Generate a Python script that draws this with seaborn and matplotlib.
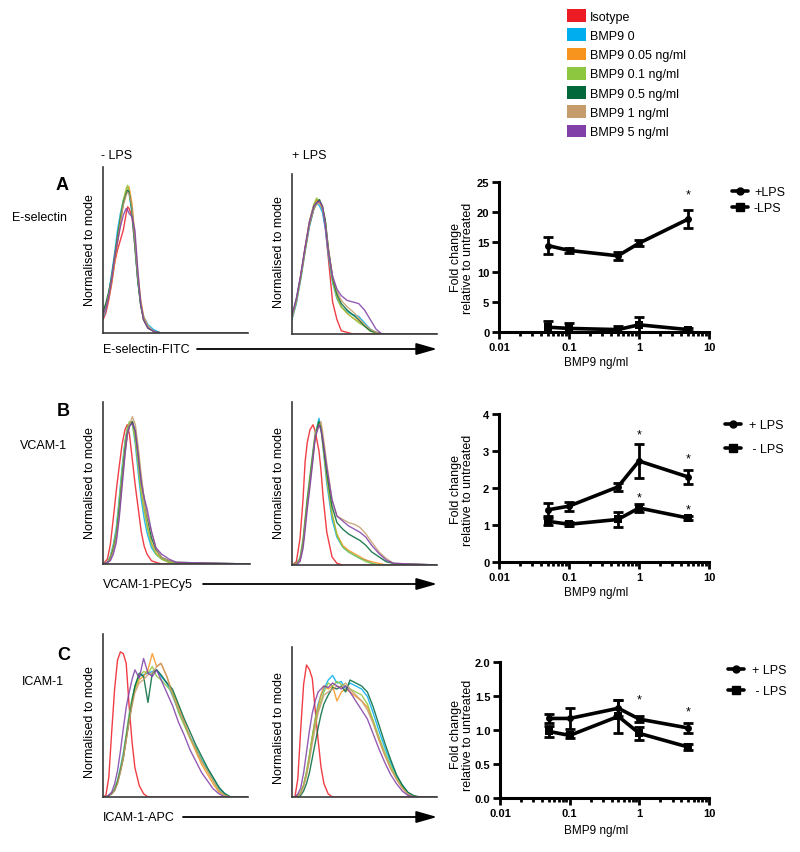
import numpy as np
import pandas as pd
import matplotlib
matplotlib.use('Agg')
import matplotlib.pyplot as plt
from matplotlib.patches import Patch, FancyArrowPatch
from matplotlib.lines import Line2D
from matplotlib.ticker import LogLocator, NullFormatter
import seaborn as sns

sns.set_theme(style='ticks')
plt.rcParams['font.family'] = ['Liberation Sans', 'DejaVu Sans']
plt.rcParams['text.color'] = 'black'
plt.rcParams['axes.labelcolor'] = 'black'
plt.rcParams['xtick.color'] = 'black'
plt.rcParams['ytick.color'] = 'black'

# ---- flow cytometry histograms (channel in % of axis, counts normalised to mode) ----
samples = ['Isotype', 'BMP9 0', 'BMP9 0.05 ng/ml', 'BMP9 0.1 ng/ml',
           'BMP9 0.5 ng/ml', 'BMP9 1 ng/ml', 'BMP9 5 ng/ml']
sample_colors = ['#ED1C24', '#00AEEF', '#F7941D', '#8DC63F',
                 '#00683A', '#C69C6D', '#8040A8']

grid_A_neg = [0, 2, 4, 6, 8, 10, 12, 14, 16, 17, 18, 20, 22, 24, 26, 28, 31, 35, 40, 100]
esel_noLPS = {
    'Isotype':         [8, 12, 20, 30, 42, 50, 56, 62, 72, 76, 75, 70, 52, 32, 17, 8, 3, 1, 0, 0],
    'BMP9 0':          [9, 14, 24, 36, 48, 62, 72, 80, 84, 86, 84, 72, 52, 31, 17, 10, 5, 2, 0, 0],
    'BMP9 0.05 ng/ml': [11, 15, 21, 30, 42, 54, 66, 78, 86, 88, 88, 78, 58, 36, 20, 10, 4, 1, 0, 0],
    'BMP9 0.1 ng/ml':  [12, 17, 24, 33, 46, 58, 70, 80, 87, 89, 85, 74, 54, 32, 17, 8, 3, 1, 0, 0],
    'BMP9 0.5 ng/ml':  [13, 18, 25, 34, 46, 58, 69, 78, 84, 86, 85, 74, 54, 32, 17, 8, 3, 1, 0, 0],
    'BMP9 1 ng/ml':    [10, 15, 23, 33, 45, 56, 67, 77, 83, 85, 84, 76, 56, 34, 19, 9, 4, 1, 0, 0],
    'BMP9 5 ng/ml':    [11, 15, 22, 32, 45, 55, 64, 71, 75, 74, 72, 70, 62, 38, 18, 8, 3, 1, 0, 0],
}

grid_A_pos = [0, 3, 6, 9, 12, 15, 17, 19, 21, 23, 25, 28, 31, 34, 38, 42, 46, 50, 54, 58, 62, 100]
esel_LPS = {
    'Isotype':         [10, 20, 36, 54, 70, 80, 84, 82, 78, 66, 48, 20, 9, 2, 1, 0, 0, 0, 0, 0, 0, 0],
    'BMP9 0':          [9, 19, 34, 51, 67, 78, 82, 80, 76, 66, 50, 32, 22, 17, 14, 12, 11, 7, 3, 1, 0, 0],
    'BMP9 0.05 ng/ml': [11, 21, 35, 52, 69, 80, 84, 83, 80, 70, 54, 34, 23, 17, 13, 10, 8, 5, 2, 1, 0, 0],
    'BMP9 0.1 ng/ml':  [10, 20, 35, 53, 70, 81, 85, 83, 80, 70, 52, 33, 23, 17, 13, 10, 7, 5, 2, 0, 0, 0],
    'BMP9 0.5 ng/ml':  [11, 22, 36, 53, 68, 78, 82, 84, 79, 71, 54, 35, 25, 19, 15, 12, 9, 5, 2, 1, 0, 0],
    'BMP9 1 ng/ml':    [10, 21, 36, 52, 68, 78, 81, 82, 78, 69, 53, 36, 27, 21, 17, 14, 10, 6, 3, 1, 0, 0],
    'BMP9 5 ng/ml':    [12, 22, 37, 54, 70, 80, 82, 83, 80, 68, 52, 36, 28, 24, 21, 20, 19, 15, 9, 3, 0, 0],
}

grid_B_neg = [0, 3, 5, 7, 9, 11, 13, 15, 16.5, 18, 20, 22, 24, 26, 28, 30, 33, 36, 40, 45, 50, 100]
vcam_noLPS = {
    'Isotype':         [0, 3, 12, 28, 45, 60, 74, 83, 86, 80, 64, 48, 34, 20, 11, 6, 2, 1, 0, 0, 0, 0],
    'BMP9 0':          [0, 1, 5, 12, 22, 40, 60, 76, 83, 87, 87, 74, 56, 40, 28, 19, 10, 6, 3, 1, 0, 0],
    'BMP9 0.05 ng/ml': [0, 1, 4, 10, 18, 34, 54, 72, 81, 86, 88, 78, 62, 45, 34, 24, 13, 7, 3, 1, 0, 0],
    'BMP9 0.1 ng/ml':  [0, 1, 4, 11, 20, 38, 58, 75, 84, 88, 86, 76, 60, 44, 33, 23, 12, 6, 3, 1, 0, 0],
    'BMP9 0.5 ng/ml':  [0, 1, 3, 9, 17, 33, 52, 70, 80, 85, 88, 82, 68, 52, 40, 29, 16, 9, 4, 2, 1, 0],
    'BMP9 1 ng/ml':    [0, 1, 3, 8, 16, 30, 50, 68, 79, 86, 91, 86, 72, 55, 40, 30, 20, 10, 4, 2, 1, 0],
    'BMP9 5 ng/ml':    [0, 1, 2, 6, 13, 28, 48, 68, 80, 85, 87, 82, 66, 50, 41, 34, 20, 10, 6, 3, 1, 0],
}

grid_B_pos = [0, 3, 5.5, 7.6, 9, 10.5, 12.4, 14.5, 16, 18.6, 20, 21.4, 24, 27.6, 31, 35,
              39, 43, 47, 51, 55, 60, 65, 70, 100]
vcam_LPS = {
    'Isotype':         [0, 2, 16, 40, 63, 75, 83, 86, 82, 70, 58, 42, 20, 5, 1, 0, 0, 0, 0, 0, 0, 0, 0, 0, 0],
    'BMP9 0':          [0, 1, 4, 15, 27, 40, 54, 70, 80, 90, 84, 72, 50, 28, 17, 11, 8, 6, 4, 3, 1, 0, 0, 0, 0],
    'BMP9 0.05 ng/ml': [0, 1, 3, 14, 25, 38, 52, 68, 79, 87, 83, 73, 53, 31, 19, 12, 9, 7, 5, 3, 2, 1, 0, 0, 0],
    'BMP9 0.1 ng/ml':  [0, 1, 4, 16, 28, 41, 55, 70, 81, 88, 85, 74, 54, 32, 18, 11, 8, 6, 4, 2, 1, 0, 0, 0, 0],
    'BMP9 0.5 ng/ml':  [0, 1, 3, 13, 25, 38, 52, 68, 79, 88, 84, 75, 57, 36, 26, 22, 19, 17, 15, 12, 8, 5, 2, 1, 0],
    'BMP9 1 ng/ml':    [0, 1, 3, 12, 24, 36, 50, 66, 80, 85, 88, 80, 62, 40, 30, 28, 26, 25, 23, 19, 14, 8, 4, 1, 0],
    'BMP9 5 ng/ml':    [0, 0, 2, 10, 21, 34, 48, 65, 78, 86, 83, 76, 60, 40, 30, 27, 24, 22, 20, 17, 12, 7, 3, 1, 0],
}

grid_C = [0, 2, 4, 6, 8, 10, 12, 14, 16, 18, 20, 22, 25, 28, 31, 34, 37, 40, 44, 48,
          52, 56, 60, 64, 68, 72, 76, 80, 84, 88, 100]
icam_noLPS = {
    'Isotype':         [0, 1, 12, 40, 66, 84, 89, 88, 82, 56, 34, 18, 7, 2, 0, 0, 0, 0, 0, 0, 0, 0, 0, 0, 0, 0, 0, 0, 0, 0, 0],
    'BMP9 0':          [0, 0, 1, 2, 5, 10, 18, 27, 38, 50, 60, 68, 74, 75, 76, 77, 78, 74, 70, 62, 53, 45, 37, 30, 23, 17, 11, 5, 2, 0, 0],
    'BMP9 0.05 ng/ml': [0, 0, 1, 2, 4, 9, 16, 24, 35, 47, 57, 66, 72, 74, 78, 88, 80, 82, 74, 64, 55, 46, 36, 28, 20, 14, 8, 3, 1, 0, 0],
    'BMP9 0.1 ng/ml':  [0, 0, 1, 2, 5, 10, 17, 26, 38, 50, 60, 67, 74, 77, 76, 80, 74, 72, 68, 64, 52, 44, 36, 30, 22, 16, 10, 4, 1, 0, 0],
    'BMP9 0.5 ng/ml':  [0, 0, 1, 2, 4, 9, 16, 24, 36, 47, 58, 68, 76, 74, 58, 76, 78, 75, 70, 66, 57, 48, 40, 32, 25, 18, 12, 6, 2, 0, 0],
    'BMP9 1 ng/ml':    [0, 0, 1, 2, 4, 8, 15, 24, 35, 46, 56, 64, 70, 72, 75, 76, 80, 82, 74, 62, 54, 46, 37, 29, 22, 16, 10, 4, 1, 0, 0],
    'BMP9 5 ng/ml':    [0, 0, 1, 3, 8, 16, 28, 42, 55, 64, 72, 78, 73, 85, 76, 74, 78, 72, 64, 56, 46, 38, 29, 22, 15, 10, 5, 2, 0, 0, 0],
}
icam_LPS = {
    'Isotype':         [0, 0, 12, 45, 75, 88, 85, 79, 58, 38, 20, 9, 2, 0, 0, 0, 0, 0, 0, 0, 0, 0, 0, 0, 0, 0, 0, 0, 0, 0, 0],
    'BMP9 0':          [0, 0, 1, 3, 8, 16, 27, 40, 52, 62, 68, 72, 78, 81, 76, 77, 72, 76, 74, 72, 67, 56, 44, 33, 23, 14, 8, 3, 0, 0, 0],
    'BMP9 0.05 ng/ml': [0, 0, 1, 3, 8, 16, 27, 40, 52, 60, 68, 74, 72, 74, 64, 70, 72, 70, 67, 64, 60, 50, 38, 28, 19, 12, 6, 2, 0, 0, 0],
    'BMP9 0.1 ng/ml':  [0, 0, 1, 3, 8, 17, 28, 40, 50, 58, 64, 70, 76, 74, 77, 75, 74, 72, 70, 68, 62, 51, 40, 30, 21, 13, 7, 2, 0, 0, 0],
    'BMP9 0.5 ng/ml':  [0, 0, 0, 1, 4, 9, 16, 26, 36, 46, 55, 62, 68, 73, 72, 74, 70, 78, 76, 74, 70, 60, 48, 36, 25, 15, 8, 3, 1, 0, 0],
    'BMP9 1 ng/ml':    [0, 0, 1, 2, 7, 14, 24, 36, 46, 56, 62, 68, 70, 72, 74, 73, 76, 72, 68, 64, 58, 49, 38, 28, 19, 12, 6, 2, 0, 0, 0],
    'BMP9 5 ng/ml':    [0, 0, 2, 6, 16, 30, 44, 56, 64, 70, 72, 74, 73, 76, 74, 72, 74, 70, 64, 58, 52, 42, 32, 23, 15, 9, 4, 1, 0, 0, 0],
}

# ---- fold change vs BMP9 dose (mean +/- error) ----
doses = [0.05, 0.1, 0.5, 1, 5]
esel_pos = [14.4, 13.6, 12.7, 14.8, 18.8]
esel_pos_err = [1.4, 0.4, 0.7, 0.5, 1.5]
esel_neg = [0.8, 0.6, 0.4, 1.2, 0.4]
esel_neg_err = [1.1, 0.9, 0.6, 1.3, 0.3]
vcam_pos = [1.41, 1.51, 2.03, 2.73, 2.30]
vcam_pos_err = [0.18, 0.12, 0.10, 0.46, 0.20]
vcam_neg = [1.10, 1.02, 1.15, 1.46, 1.19]
vcam_neg_err = [0.10, 0.06, 0.20, 0.10, 0.06]
icam_pos = [1.17, 1.17, 1.32, 1.16, 1.03]
icam_pos_err = [0.07, 0.15, 0.12, 0.04, 0.07]
icam_neg = [0.98, 0.92, 1.20, 0.95, 0.75]
icam_neg_err = [0.08, 0.04, 0.24, 0.10, 0.04]
esel_stars = [(5, 23.0)]
vcam_stars = [(1, 3.45), (5, 2.8), (1, 1.75), (5, 1.42)]
icam_stars = [(1, 1.45), (5, 1.27)]

W, H = 800, 853
fig = plt.figure(figsize=(W / 100, H / 100), dpi=100)


def px_axes(left, top, right, bottom):
    return fig.add_axes([left / W, 1 - bottom / H, (right - left) / W, (bottom - top) / H])


def ftext(x, y, s, **kw):
    kw.setdefault('fontsize', 9)
    fig.text(x / W, 1 - y / H, s, **kw)


def arrow(x0, x1, y):
    fig.add_artist(FancyArrowPatch((x0 / W, 1 - y / H), (x1 / W, 1 - y / H),
                                   transform=fig.transFigure, color='black', lw=1.3,
                                   arrowstyle='-|>,head_length=0.7,head_width=0.2',
                                   mutation_scale=18, shrinkA=0, shrinkB=0))


def hist_panel(box, grid, curves):
    ax = px_axes(*box)
    for name, col in zip(samples, sample_colors):
        sns.lineplot(x=grid, y=curves[name], color=col, lw=1.0, alpha=0.85, ax=ax)
    ax.set_xlim(0, 100)
    ax.set_ylim(0, 100)
    ax.set_xticks([])
    ax.set_yticks([])
    ax.set(xlabel='', ylabel='')
    ax.patch.set_alpha(0)
    for s in ['top', 'right']:
        ax.spines[s].set_visible(False)
    for s in ['left', 'bottom']:
        ax.spines[s].set_color('#3a3a3a')
        ax.spines[s].set_linewidth(1.2)
    return ax


def line_panel(box, ymax, yticks, pos, pos_err, neg, neg_err, stars, labels,
               leg_x, leg_top, leg_space, leg_pad):
    ax = px_axes(*box)
    sns.lineplot(x=doses, y=pos, color='black', lw=2.6, marker='o', markersize=5,
                 markeredgewidth=0, ax=ax)
    sns.lineplot(x=doses, y=neg, color='black', lw=2.6, marker='s', markersize=5.5,
                 markeredgewidth=0, ax=ax)
    ax.errorbar(doses, pos, yerr=pos_err, fmt='none', ecolor='black',
                elinewidth=2, capsize=3.5, capthick=2)
    ax.errorbar(doses, neg, yerr=neg_err, fmt='none', ecolor='black',
                elinewidth=2, capsize=3.5, capthick=2)
    for sx, sy in stars:
        ax.text(sx, sy, '*', ha='center', va='center', fontsize=9)
    ax.set_xscale('log')
    ax.set_xlim(0.01, 10)
    ax.set_ylim(0, ymax)
    ax.set_xticks([0.01, 0.1, 1, 10], labels=['0.01', '0.1', '1', '10'])
    ax.xaxis.set_minor_locator(LogLocator(base=10, subs=range(2, 10)))
    ax.xaxis.set_minor_formatter(NullFormatter())
    ax.set_yticks(yticks)
    ax.set(xlabel='', ylabel='')
    ax.tick_params(which='major', length=5, width=2, labelsize=8, pad=2, color='black')
    ax.tick_params(which='minor', length=3, width=2, color='black')
    for lbl in ax.get_xticklabels() + ax.get_yticklabels():
        lbl.set_fontweight('bold')
    for s in ['top', 'right']:
        ax.spines[s].set_visible(False)
    for s in ['left', 'bottom']:
        ax.spines[s].set_linewidth(2.2)
        ax.spines[s].set_color('black')
    ax.patch.set_alpha(0)
    handles = [Line2D([], [], color='black', lw=2.6, marker='o', markersize=5),
               Line2D([], [], color='black', lw=2.6, marker='s', markersize=5.5)]
    ax.legend(handles, labels, loc='upper left', frameon=False, fontsize=9,
              bbox_to_anchor=(leg_x / W, 1 - leg_top / H), bbox_transform=fig.transFigure,
              borderpad=0, borderaxespad=0, handlelength=1.3, handletextpad=leg_pad,
              labelspacing=leg_space)
    return ax


# histograms
hist_panel((103, 168, 248, 334), grid_A_neg, esel_noLPS)
hist_panel((292, 175, 437, 335), grid_A_pos, esel_LPS)
hist_panel((103, 403, 250, 565), grid_B_neg, vcam_noLPS)
hist_panel((292, 403, 437, 566), grid_B_pos, vcam_LPS)
hist_panel((103, 635, 248, 798), grid_C, icam_noLPS)
hist_panel((292, 648, 437, 798), grid_C, icam_LPS)

# dose response
line_panel((499, 183, 709, 333), 25, [0, 5, 10, 15, 20, 25], esel_pos, esel_pos_err,
           esel_neg, esel_neg_err, esel_stars, ['+LPS', '-LPS'], 732, 187, 0.36, 0.45)
line_panel((499, 415, 709, 563), 4, [0, 1, 2, 3, 4], vcam_pos, vcam_pos_err,
           vcam_neg, vcam_neg_err, vcam_stars, ['+ LPS', ' - LPS'], 725, 420, 1.0, 0.6)
line_panel((500, 663, 709, 799), 2.0, [0, 0.5, 1.0, 1.5, 2.0], icam_pos, icam_pos_err,
           icam_neg, icam_neg_err, icam_stars, ['+ LPS', ' - LPS'], 728, 665, 0.75, 0.6)

# texts around the panels
ftext(62, 185, 'A', fontsize=13, fontweight='bold', ha='center', va='center')
ftext(63, 412, 'B', fontsize=13, fontweight='bold', ha='center', va='center')
ftext(64, 656, 'C', fontsize=13, fontweight='bold', ha='center', va='center')
ftext(12, 218, 'E-selectin', ha='left', va='center')
ftext(20, 446, 'VCAM-1', ha='left', va='center')
ftext(22, 682, 'ICAM-1', ha='left', va='center')
ftext(101, 156, '- LPS', ha='left', va='center')
ftext(292, 156, '+ LPS', ha='left', va='center')

for x, y in [(90, 250), (279, 252), (90, 483), (279, 483), (90, 722), (279, 728)]:
    ftext(x, y, 'Normalised to mode', rotation=90, ha='center', va='center')

ftext(103, 350, 'E-selectin-FITC', ha='left', va='center')
arrow(197, 437, 350)
ftext(103, 585, 'VCAM-1-PECy5', ha='left', va='center')
arrow(203, 437, 585)
ftext(103, 818, 'ICAM-1-APC', ha='left', va='center')
arrow(183, 437, 818)

for y in [258, 490, 735]:
    ftext(462, y, 'Fold change\nrelative to untreated', rotation=90, ha='center',
          va='center', linespacing=1.0)
for y in [363, 593, 831]:
    ftext(596, y, 'BMP9 ng/ml', fontsize=8.5, ha='center', va='center')

# sample legend
leg_handles = [Patch(facecolor=c, edgecolor='none') for c in sample_colors]
fig.legend(leg_handles, samples, loc='upper left', frameon=False, fontsize=9,
           bbox_to_anchor=(567 / W, 1 - 10 / H), borderpad=0, borderaxespad=0,
           handlelength=1.5, handleheight=1.2, handletextpad=0.3, labelspacing=0.45)

fig.savefig('out.png', dpi=100)
